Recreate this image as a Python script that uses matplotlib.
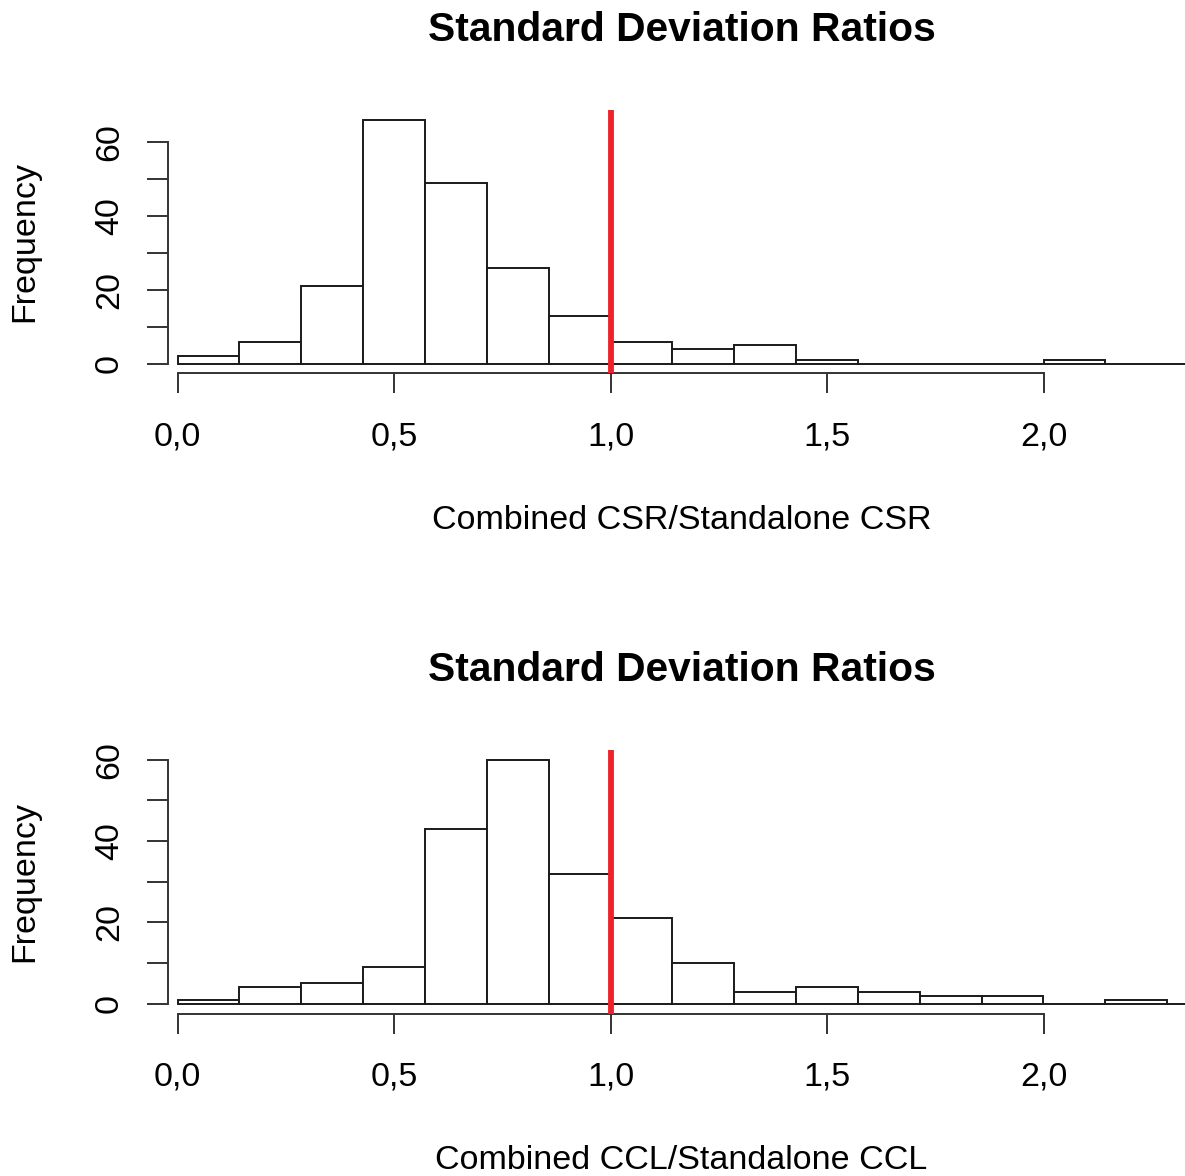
import numpy as np
import matplotlib
matplotlib.use("Agg")
import matplotlib.pyplot as plt
from matplotlib.ticker import FuncFormatter

plt.rcParams['font.family'] = ['Liberation Sans', 'DejaVu Sans']

# -------------------- data --------------------
bin_width = 1 / 7
csr_counts = [2, 6, 21, 66, 49, 26, 13, 6, 4, 5, 1, 0, 0, 0, 1, 0, 0]
ccl_counts = [1, 4, 5, 9, 43, 60, 32, 21, 10, 3, 4, 3, 2, 2, 0, 1, 0]
ref_line = 1.0
x_ticks = [0.0, 0.5, 1.0, 1.5, 2.0]
y_ticks = [0, 10, 20, 30, 40, 50, 60]
y_labels = ['0', '', '20', '', '40', '', '60']
title = "Standard Deviation Ratios"
xlabel_top = "Combined CSR/Standalone CSR"
xlabel_bottom = "Combined CCL/Standalone CCL"

W, H = 1185, 1176
fig = plt.figure(figsize=(W / 100, H / 100), dpi=100)

# pixel geometry
x0_px, x2_px = 177.5, 1043.5
px_per_unit = (x2_px - x0_px) / 2.0
ax_left_px, ax_right_px = 168, 1185
xlim = ((ax_left_px - x0_px) / px_per_unit, (ax_right_px - x0_px) / px_per_unit)


def draw_panel(top_px, bot_px, counts, ymax, xlabel):
    ax = fig.add_axes([ax_left_px / W, 1 - bot_px / H,
                       (ax_right_px - ax_left_px) / W, (bot_px - top_px) / H])
    edges = np.arange(len(counts) + 1) * bin_width
    ax.bar(edges[:-1], counts, width=bin_width, align='edge',
           facecolor='white', edgecolor='#1a1a1a', linewidth=1.4, clip_on=True)
    ax.axvline(ref_line, color='#ee2228', linewidth=4.2, zorder=5)
    ext = ymax * 0.04
    ax.set_ylim(-ext, ymax + ext)
    ax.set_xlim(*xlim)
    for s in ['top', 'right']:
        ax.spines[s].set_visible(False)
    ax.spines['left'].set_bounds(0, 60)
    ax.spines['bottom'].set_bounds(0, 2.0)
    for s in ['left', 'bottom']:
        ax.spines[s].set_linewidth(1.4)
        ax.spines[s].set_color('#333333')
    ax.set_xticks(x_ticks)
    ax.xaxis.set_major_formatter(FuncFormatter(lambda v, p: f"{v:.1f}".replace('.', ',')))
    ax.set_yticks(y_ticks)
    ax.set_yticklabels(y_labels, rotation=90, va='center')
    ax.tick_params(axis='x', length=14.5, width=1.4, color='#333333',
                   labelsize=24.5, pad=20)
    ax.tick_params(axis='y', length=15, width=1.4, color='#333333',
                   labelsize=24.5, pad=16)
    fig.text(681.5 / W, 1 - (top_px - 80) / H, title, ha='center', va='center',
             fontsize=29.3, fontweight='bold')
    fig.text(681.5 / W, 1 - (bot_px + 147) / H, xlabel, ha='center', va='center',
             fontsize=24.5)
    fig.text(25 / W, 1 - ((top_px + bot_px) / 2) / H, "Frequency", ha='center',
             va='center', rotation=90, fontsize=24.5)
    return ax


draw_panel(110, 373.5, csr_counts, 66, xlabel_top)
draw_panel(750, 1013.5, ccl_counts, 60, xlabel_bottom)

fig.savefig("out.png", dpi=100)
